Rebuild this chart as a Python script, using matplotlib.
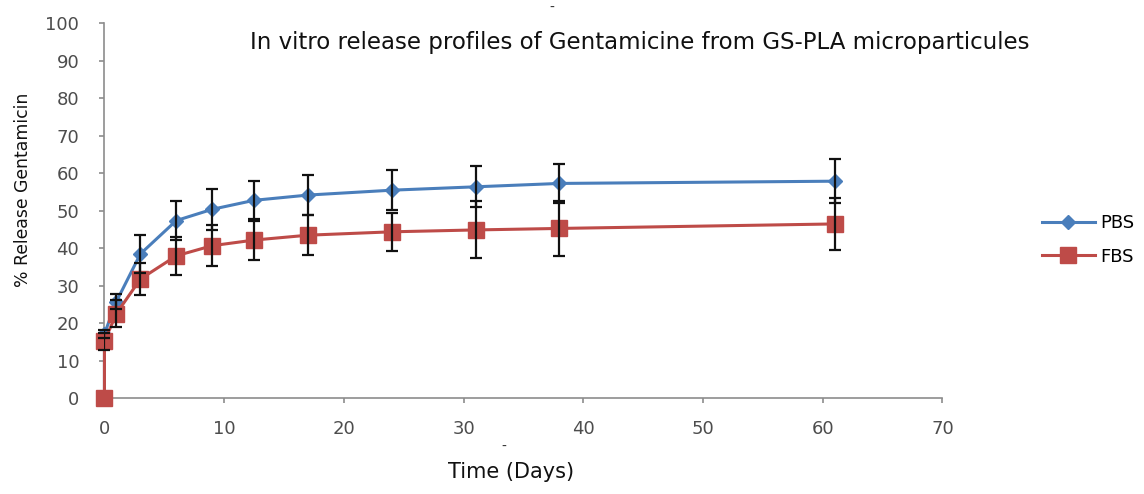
import matplotlib
matplotlib.use("Agg")
from matplotlib import pyplot as plt

# release data (time in days, % released)
days = [0, 0, 1, 3, 6, 9, 12.5, 17, 24, 31, 38, 61]
pbs = [0, 17.2, 25.8, 38.5, 47.4, 50.4, 52.8, 54.2, 55.5, 56.4, 57.3, 57.9]
pbs_err = [0, 1.0, 2.0, 5.1, 5.2, 5.5, 5.1, 5.3, 5.3, 5.5, 5.2, 5.8]
fbs = [0, 15.2, 22.6, 31.8, 38.0, 40.7, 42.2, 43.5, 44.4, 44.9, 45.3, 46.5]
fbs_err = [0, 2.3, 3.6, 4.2, 5.0, 5.5, 5.2, 5.3, 5.0, 7.6, 7.4, 7.0]

blue = '#4a7ebb'
red = '#be4b48'
grey = '#4d4d4d'
font = 'DejaVu Sans'

fig = plt.figure(figsize=(11.44, 4.94), dpi=100)
ax = fig.add_axes([0.0913, 0.1937, 0.7325, 0.7591])

ax.plot(days, pbs, '-D', color=blue, lw=2.2, ms=7, label='PBS', zorder=3)
ax.plot(days, fbs, '-s', color=red, lw=2.2, ms=12, label='FBS', zorder=4)
ax.errorbar(days[1:], pbs[1:], yerr=pbs_err[1:], fmt='none', ecolor='#111111',
            elinewidth=1.6, capsize=4.3, capthick=1.6, zorder=5)
ax.errorbar(days[1:], fbs[1:], yerr=fbs_err[1:], fmt='none', ecolor='#111111',
            elinewidth=1.6, capsize=4.3, capthick=1.6, zorder=5)

ax.set_xlim(0, 70)
ax.set_ylim(0, 100)
ax.set_xticks(range(0, 71, 10))
ax.set_yticks(range(0, 101, 10))
ax.spines['top'].set_visible(False)
ax.spines['right'].set_visible(False)
for s in ['left', 'bottom']:
    ax.spines[s].set_color('#8c8c8c')
    ax.spines[s].set_linewidth(1.2)
    ax.spines[s].set_zorder(1)
ax.tick_params(colors='#8c8c8c', length=3.6, width=1.2, labelcolor=grey, labelsize=13)
ax.tick_params(axis='x', pad=12)
ax.tick_params(axis='y', pad=14.5)
for t in ax.get_xticklabels() + ax.get_yticklabels():
    t.set_family(font)
for ln in ax.lines:
    ln.set_clip_on(False)

ax.text(0.6385, 0.950, 'In vitro release profiles of Gentamicine from GS-PLA microparticules',
        transform=ax.transAxes, ha='center', va='center', fontsize=16.5,
        family=font, color='#111111')

fig.text(0.447, 0.044, 'Time (Days)', ha='center', va='center', fontsize=15,
         family=font, color='#111111')
fig.text(0.020, 0.6164, '% Release Gentamicin', ha='center', va='center', rotation=90,
         fontsize=12.4, family=font, color='#111111')

# stray marks in the original image
fig.text(0.4825, 0.985, '-', ha='center', va='center', fontsize=10, color='#333333')
fig.text(0.44, 0.095, '-', ha='center', va='center', fontsize=10, color='#333333')

leg = fig.legend(loc='center left', bbox_to_anchor=(0.911, 0.514), frameon=False,
                 handlelength=2.9, labelspacing=0.85, handletextpad=0.3,
                 borderpad=0, borderaxespad=0, prop={'family': font, 'size': 13})

fig.savefig('out.png', dpi=100)
